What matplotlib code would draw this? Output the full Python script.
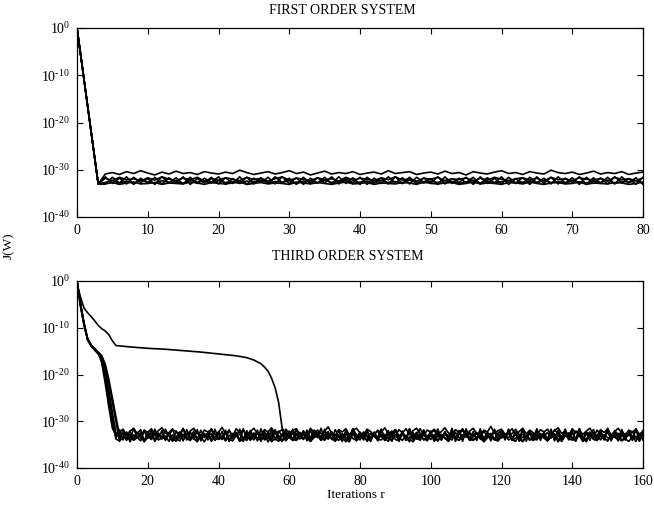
import matplotlib
matplotlib.use("Agg")
import matplotlib.pyplot as plt
import numpy as np

plt.rcParams['font.family'] = ['Liberation Serif', 'DejaVu Serif']
plt.rcParams['mathtext.fontset'] = 'custom'
plt.rcParams['mathtext.rm'] = 'Liberation Serif'
plt.rcParams['mathtext.it'] = 'Liberation Serif:italic'

# ---------------- data (log10 of J(W)) ----------------
top_title = "FIRST ORDER SYSTEM"
bot_title = "THIRD ORDER SYSTEM"
y_label = "J(W)"
x_label = "Iterations r"
y_ticks_exp = [0, -10, -20, -30, -40]
top_xticks = [0, 10, 20, 30, 40, 50, 60, 70, 80]
bot_xticks = [0, 20, 40, 60, 80, 100, 120, 140, 160]

# first order system: common initial descent (iterations 0..3)
top_descent = [0.0, -11.0, -22.0, -33.0]
# floor values for iterations 4..80
top_upper = [-30.9,-30.6,-31.0,-30.4,-30.8,-30.2,-30.7,-31.1,-30.5,-30.9,
             -30.3,-30.8,-30.6,-31.0,-30.4,-30.7,-30.9,-30.5,-30.8,-30.1,
             -30.6,-31.0,-30.7,-30.4,-30.9,-30.6,-30.2,-30.8,-30.5,-31.1,
             -30.7,-30.3,-30.9,-30.6,-30.8,-30.4,-31.0,-30.7,-30.5,-30.9,
             -30.2,-30.8,-30.6,-30.4,-31.0,-30.7,-30.5,-30.9,-30.3,-30.8,
             -30.6,-31.1,-30.4,-30.7,-30.9,-30.5,-30.2,-30.8,-30.6,-31.0,
             -30.4,-30.7,-30.9,-30.1,-30.6,-30.8,-30.5,-31.0,-30.7,-30.3,
             -30.9,-30.6,-30.8,-30.4,-31.0,-30.7,-30.5]
top_band1 = [-31.8,-32.3,-31.6,-32.1,-31.9,-32.4,-31.7,-32.2,-31.5,-32.0,
             -32.3,-31.8,-32.1,-31.6,-32.4,-31.9,-32.2,-31.7,-32.0,-32.3,
             -31.6,-32.1,-31.8,-32.4,-31.9,-31.5,-32.2,-31.8,-32.0,-32.3,
             -31.7,-32.1,-31.9,-32.4,-31.6,-32.2,-31.8,-32.0,-32.3,-31.7,
             -32.1,-31.5,-32.2,-31.9,-32.4,-31.8,-32.0,-31.6,-32.3,-31.9,
             -32.1,-31.7,-32.4,-31.8,-32.2,-31.6,-32.0,-32.3,-31.9,-31.7,
             -32.2,-31.8,-32.4,-31.6,-32.1,-31.9,-32.3,-31.7,-32.0,-32.2,
             -31.8,-32.4,-31.6,-32.1,-31.9,-32.3,-31.7]
top_band2 = [-32.7,-32.3,-32.8,-32.4,-32.9,-32.2,-32.6,-32.8,-32.3,-32.7,
             -32.5,-32.9,-32.2,-32.6,-32.4,-32.8,-32.3,-32.7,-32.5,-32.9,
             -32.4,-32.6,-32.2,-32.8,-32.5,-32.7,-32.3,-32.9,-32.4,-32.6,
             -32.8,-32.2,-32.7,-32.5,-32.3,-32.9,-32.6,-32.4,-32.8,-32.3,
             -32.7,-32.5,-32.9,-32.2,-32.6,-32.8,-32.4,-32.7,-32.3,-32.5,
             -32.9,-32.6,-32.2,-32.8,-32.4,-32.7,-32.5,-32.3,-32.9,-32.6,
             -32.4,-32.8,-32.2,-32.7,-32.5,-32.9,-32.3,-32.6,-32.8,-32.4,
             -32.7,-32.2,-32.9,-32.5,-32.6,-32.3,-32.8]
top_band3 = [-33.0,-32.7,-33.1,-32.8,-32.6,-33.0,-32.9,-32.7,-33.1,-32.8,
             -32.9,-33.0,-32.6,-32.8,-33.1,-32.7,-32.9,-33.0,-32.8,-32.6,
             -33.1,-32.9,-32.7,-33.0,-32.8,-32.9,-33.1,-32.6,-32.8,-33.0,
             -32.7,-32.9,-33.1,-32.8,-32.6,-33.0,-32.9,-32.7,-33.1,-32.8,
             -32.9,-33.0,-32.7,-32.8,-33.1,-32.6,-32.9,-33.0,-32.8,-32.7,
             -33.1,-32.9,-32.6,-33.0,-32.8,-32.9,-33.1,-32.7,-32.8,-33.0,
             -32.6,-32.9,-33.1,-32.8,-32.7,-33.0,-32.9,-32.6,-33.1,-32.8,
             -32.9,-33.0,-32.7,-32.8,-33.1,-32.9,-32.6]
top_band4 = [-31.5,-32.9,-31.8,-33.0,-31.6,-32.7,-31.9,-33.1,-31.5,-32.8,
             -31.7,-33.0,-31.6,-32.9,-31.8,-32.6,-31.5,-33.1,-31.9,-32.8,
             -31.6,-33.0,-31.7,-32.9,-31.5,-32.7,-31.8,-33.1,-31.6,-32.9,
             -31.7,-32.8,-31.5,-33.0,-31.9,-32.7,-31.6,-33.1,-31.8,-32.9,
             -31.5,-32.8,-31.7,-33.0,-31.6,-32.6,-31.9,-33.1,-31.5,-32.9,
             -31.8,-32.7,-31.6,-33.0,-31.7,-32.8,-31.5,-33.1,-31.9,-32.9,
             -31.6,-32.7,-31.8,-33.0,-31.5,-32.8,-31.7,-33.1,-31.6,-32.9,
             -31.8,-33.0,-31.5,-32.7,-31.9,-33.1,-31.6]
top_band5 = [-33.0,-31.6,-32.8,-31.5,-33.1,-31.8,-32.9,-31.6,-33.0,-31.7,
             -32.7,-31.5,-33.1,-31.9,-32.8,-31.6,-33.0,-31.7,-32.9,-31.5,
             -33.1,-31.8,-32.7,-31.6,-33.0,-31.5,-32.9,-31.7,-33.1,-31.8,
             -32.8,-31.6,-33.0,-31.5,-32.9,-31.7,-33.1,-31.6,-32.7,-31.8,
             -33.0,-31.5,-32.9,-31.6,-33.1,-31.7,-32.8,-31.5,-33.0,-31.9,
             -32.7,-31.6,-33.1,-31.5,-32.9,-31.8,-33.0,-31.6,-32.8,-31.7,
             -33.1,-31.5,-32.9,-31.6,-33.0,-31.8,-32.7,-31.5,-33.1,-31.7,
             -32.9,-31.6,-33.0,-31.5,-32.8,-31.7,-33.1]

# third order system: fast runs, descent for iterations 0..11
fast1_descent = [0.0, -5.5, -9.5, -12.5, -13.8, -14.5, -15.2, -16.0, -19.0, -23.5, -28.0, -32.5]
fast2_descent = [0.0, -5.0, -9.0, -12.3, -13.7, -14.4, -15.3, -16.5, -20.5, -25.0, -29.5, -33.5]
fast3_descent = [0.0, -4.8, -9.2, -12.6, -13.9, -14.7, -15.5, -16.2, -18.5, -22.0, -26.0, -30.0]
fast4_descent = [0.0, -5.2, -9.3, -12.4, -13.8, -14.6, -15.4, -17.5, -22.0, -27.0, -31.5, -33.0]
fast5_descent = [0.0, -5.3, -9.4, -12.5, -13.9, -14.8, -15.6, -17.0, -21.0, -25.5, -30.0, -33.8]
fast6_descent = [0.0, -4.9, -9.1, -12.4, -13.7, -14.5, -15.3, -16.0, -17.8, -21.0, -25.0, -29.0]
# floor values for iterations 12..160
fast1_floor = [-33.5,-32.6,-34.1,-33.0,-33.8,-32.4,-33.6,-34.2,-32.9,-33.4,
               -34.0,-32.7,-33.3,-33.9,-32.5,-33.7,-34.3,-33.1,-32.8,-33.6,
               -34.1,-32.9,-33.4,-33.8,-32.6,-34.0,-33.2,-32.7,-33.9,-33.5,
               -32.4,-33.8,-34.2,-33.0,-32.8,-33.6,-34.1,-32.6,-33.3,-33.9,
               -32.7,-34.0,-33.4,-32.5,-33.7,-34.3,-33.0,-32.9,-33.5,-34.1,
               -32.6,-33.3,-33.9,-32.8,-34.2,-33.1,-32.4,-33.7,-34.0,-33.2,
               -32.9,-33.6,-34.1,-32.7,-33.4,-33.8,-32.5,-34.2,-33.0,-33.5,
               -34.0,-32.6,-33.3,-33.9,-32.8,-33.6,-34.3,-32.7,-33.2,-33.8,
               -32.5,-34.1,-33.4,-32.9,-33.7,-34.0,-32.6,-33.3,-33.9,-32.8,
               -34.2,-33.1,-32.7,-33.6,-34.0,-32.4,-33.5,-33.9,-32.8,-34.1,
               -33.3,-32.6,-33.8,-34.2,-32.9,-33.4,-34.0,-32.7,-33.6,-33.1,
               -32.5,-33.9,-34.3,-32.8,-33.5,-33.0,-34.1,-32.6,-33.7,-33.3,
               -32.9,-34.0,-33.4,-32.7,-33.8,-34.2,-33.1,-32.5,-33.6,-33.9,
               -32.8,-33.3,-34.1,-32.6,-33.7,-33.0,-34.0,-32.9,-33.5,-33.8,
               -32.4,-33.6,-34.2,-33.1,-32.7,-33.9,-33.4,-32.8,-34.0]
fast2_floor = [-32.3,-31.7,-32.9,-32.1,-31.5,-32.6,-33.2,-31.9,-32.4,-31.6,
               -32.8,-32.0,-31.4,-32.5,-33.0,-31.8,-32.2,-32.7,-31.6,-32.9,
               -32.1,-31.5,-32.6,-33.1,-31.9,-32.3,-31.7,-32.8,-32.4,-31.3,
               -32.7,-32.0,-33.2,-31.6,-32.5,-31.9,-32.9,-32.2,-31.5,-32.6,
               -33.0,-31.8,-32.3,-31.4,-32.7,-32.1,-33.1,-31.7,-32.5,-32.0,
               -31.6,-32.8,-32.2,-33.0,-31.5,-32.4,-31.9,-32.7,-32.1,-31.2,
               -32.6,-33.1,-31.8,-32.3,-31.6,-32.9,-32.0,-31.5,-32.5,-32.8,
               -31.7,-32.2,-33.0,-31.9,-32.4,-31.4,-32.7,-32.1,-33.2,-31.8,
               -32.5,-31.6,-32.9,-32.0,-31.5,-32.6,-33.1,-31.9,-32.3,-31.7,
               -32.8,-32.2,-31.4,-32.5,-33.0,-31.8,-32.4,-31.6,-32.9,-32.1,
               -31.5,-32.7,-33.2,-31.9,-32.3,-31.1,-32.6,-32.0,-31.7,-32.8,
               -32.4,-31.6,-33.0,-32.2,-31.5,-32.7,-31.9,-32.5,-33.1,-31.8,
               -32.3,-31.7,-32.9,-32.0,-31.4,-32.6,-32.2,-33.0,-31.6,-32.5,
               -31.9,-32.8,-32.1,-31.5,-32.7,-33.1,-31.8,-32.4,-31.6,-32.9,
               -32.2,-31.5,-32.6,-33.0,-31.9,-32.3,-31.7,-32.8,-32.1]
fast3_floor = [-34.3,-33.2,-33.9,-32.8,-34.1,-33.5,-32.9,-34.4,-33.3,-33.8,
               -32.7,-34.0,-33.6,-33.1,-34.3,-32.9,-33.7,-34.2,-33.0,-33.5,
               -34.1,-32.8,-33.9,-33.4,-34.4,-33.1,-32.7,-34.0,-33.6,-33.2,
               -34.2,-33.0,-33.8,-32.9,-34.3,-33.5,-33.1,-34.1,-32.8,-33.7,
               -34.0,-33.3,-32.9,-34.4,-33.6,-33.0,-34.2,-33.4,-32.8,-33.9,
               -34.1,-33.2,-33.7,-32.9,-34.3,-33.5,-33.0,-34.0,-33.6,-32.7,
               -33.8,-34.2,-33.1,-33.5,-34.4,-32.9,-33.7,-34.1,-33.3,-33.0,
               -34.3,-33.4,-32.8,-33.9,-34.0,-33.2,-33.6,-34.2,-32.9,-33.5,
               -34.1,-33.0,-33.8,-34.4,-33.3,-32.8,-33.9,-34.0,-33.1,-33.6,
               -34.2,-32.9,-33.5,-34.3,-33.2,-33.7,-34.0,-33.0,-32.8,-33.9,
               -34.1,-33.4,-33.1,-34.4,-33.6,-32.9,-33.8,-34.2,-33.3,-33.0,
               -34.0,-33.5,-32.8,-33.9,-34.3,-33.1,-33.7,-34.1,-33.2,-32.9,
               -33.6,-34.2,-33.4,-33.0,-34.4,-33.3,-32.8,-33.8,-34.0,-33.5,
               -33.1,-34.3,-33.7,-32.9,-33.9,-34.1,-33.2,-33.6,-34.2,-33.0,
               -33.4,-34.0,-32.8,-33.8,-34.3,-33.3,-33.5,-34.1,-32.9]
fast4_floor = [-31.8,-34.0,-32.3,-33.9,-31.6,-33.4,-34.2,-32.0,-33.7,-31.9,
               -34.1,-32.5,-33.8,-31.7,-33.2,-34.3,-32.1,-33.6,-31.5,-34.0,
               -32.4,-33.9,-31.8,-34.2,-32.7,-33.5,-31.6,-34.1,-32.2,-33.8,
               -31.9,-34.3,-32.6,-33.3,-31.7,-34.0,-32.0,-33.9,-32.5,-34.2,
               -31.6,-33.7,-32.3,-34.1,-31.8,-33.6,-34.3,-32.1,-33.4,-31.7,
               -34.0,-32.4,-33.8,-31.9,-34.2,-32.6,-33.5,-31.5,-34.1,-32.2,
               -33.9,-31.8,-33.3,-34.3,-32.0,-33.7,-31.6,-34.0,-32.5,-33.8,
               -31.9,-34.2,-32.3,-33.6,-31.7,-34.1,-32.7,-33.4,-31.8,-34.3,
               -32.1,-33.9,-31.6,-34.0,-32.4,-33.7,-31.9,-34.2,-32.6,-33.5,
               -31.7,-34.1,-32.2,-33.8,-31.5,-34.3,-32.0,-33.6,-31.8,-34.0,
               -32.5,-33.9,-31.6,-34.2,-32.3,-33.4,-31.9,-34.1,-32.1,-33.7,
               -31.7,-34.0,-32.6,-33.8,-31.8,-34.3,-32.2,-33.5,-31.6,-34.1,
               -32.4,-33.9,-31.9,-34.2,-32.0,-33.6,-31.7,-34.0,-32.5,-33.8,
               -31.6,-34.3,-32.3,-33.7,-31.8,-34.1,-32.1,-33.9,-31.5,-34.2,
               -32.6,-33.4,-31.9,-34.0,-32.2,-33.8,-31.7,-34.3,-32.0]
fast5_floor = [-34.2,-31.9,-33.8,-32.1,-34.0,-32.6,-31.8,-34.3,-32.2,-33.9,
               -31.7,-33.6,-32.0,-34.1,-32.4,-31.6,-33.9,-32.3,-34.2,-31.8,
               -33.7,-32.1,-34.0,-31.9,-33.5,-32.5,-34.3,-31.7,-33.8,-32.2,
               -34.1,-31.8,-33.6,-32.4,-34.2,-31.6,-33.9,-32.0,-33.4,-31.9,
               -34.3,-32.2,-33.7,-31.7,-34.0,-32.3,-31.8,-33.9,-32.1,-34.1,
               -31.6,-33.8,-32.0,-34.2,-31.9,-33.5,-32.4,-34.0,-31.7,-33.6,
               -32.2,-34.3,-31.8,-33.9,-32.1,-34.1,-31.6,-33.7,-32.3,-34.0,
               -31.9,-33.8,-32.5,-34.2,-31.7,-33.6,-32.0,-34.3,-31.8,-33.9,
               -32.2,-34.0,-31.6,-33.7,-32.4,-34.1,-31.9,-33.5,-32.1,-34.2,
               -31.7,-33.9,-32.3,-34.0,-31.8,-33.6,-32.0,-34.3,-31.6,-33.8,
               -32.2,-34.1,-31.9,-33.7,-32.5,-34.2,-31.7,-33.9,-32.0,-34.0,
               -31.8,-33.6,-32.3,-34.3,-31.6,-33.8,-32.1,-34.1,-31.9,-33.7,
               -32.4,-34.0,-31.7,-33.9,-32.2,-34.2,-31.8,-33.5,-32.0,-34.3,
               -31.6,-33.8,-32.3,-34.1,-31.9,-33.7,-32.1,-34.0,-31.7,-33.9,
               -32.5,-34.2,-31.8,-33.6,-32.0,-34.1,-31.6,-33.8,-32.2]
fast6_floor = [-33.0,-33.9,-32.6,-34.4,-32.9,-33.5,-32.4,-34.1,-33.2,-32.7,
               -34.3,-33.1,-32.5,-33.8,-32.8,-34.2,-33.4,-32.6,-34.0,-33.0,
               -32.3,-33.7,-34.4,-32.9,-33.3,-32.5,-34.1,-33.6,-32.7,-33.9,
               -32.4,-34.2,-33.0,-32.8,-33.8,-34.3,-32.6,-33.2,-34.0,-32.5,
               -33.7,-32.9,-34.4,-33.1,-32.4,-33.9,-32.7,-34.2,-33.3,-32.6,
               -34.0,-33.4,-32.8,-33.6,-34.3,-32.5,-33.0,-34.1,-32.9,-33.8,
               -32.4,-34.2,-33.2,-32.7,-33.9,-34.4,-32.6,-33.5,-34.0,-32.8,
               -33.3,-34.3,-32.5,-33.7,-32.9,-34.1,-33.0,-32.6,-33.9,-34.2,
               -32.7,-33.4,-34.4,-32.4,-33.8,-32.9,-34.0,-33.2,-32.6,-34.3,
               -33.1,-32.8,-33.7,-34.2,-32.5,-33.6,-34.1,-32.9,-33.3,-32.4,
               -34.0,-33.5,-32.7,-34.3,-33.0,-32.6,-33.9,-34.2,-32.8,-33.4,
               -32.5,-34.1,-33.6,-32.9,-34.4,-33.2,-32.7,-33.8,-34.0,-32.6,
               -33.3,-34.2,-32.4,-33.7,-32.9,-34.3,-33.1,-32.6,-33.9,-34.1,
               -32.8,-33.5,-34.4,-32.5,-33.0,-34.0,-32.7,-33.6,-34.2,-32.9,
               -33.4,-32.6,-34.1,-33.8,-32.4,-33.2,-34.3,-32.7,-33.9]

# third order system: slow run (iteration, value) up to iteration 58
slow_iter = [0, 1, 2, 3, 4, 5, 6, 7, 8, 9, 10, 11, 15, 20, 25, 30, 35, 40, 45, 48,
             50, 52, 53, 54, 55, 56, 57, 58]
slow_descent = [-0.5, -3.5, -5.8, -6.8, -7.6, -8.5, -9.5, -10.2, -10.7, -11.5, -12.8, -13.8,
                -14.1, -14.4, -14.6, -14.9, -15.2, -15.6, -16.0, -16.4,
                -16.9, -17.7, -18.4, -19.3, -20.8, -22.8, -26.0, -31.5]
# floor values for iterations 59..160
slow_floor = [-32.6,-33.4,-32.1,-33.0,-33.7,-32.4,-32.9,-33.5,-31.9,-32.7,
              -33.3,-32.2,-33.8,-32.5,-33.1,-32.0,-33.6,-32.8,-33.2,-31.7,
              -32.9,-33.5,-32.3,-33.0,-33.9,-32.6,-32.1,-33.4,-32.8,-33.7,
              -32.4,-31.8,-33.1,-32.7,-33.6,-32.2,-33.3,-32.9,-31.6,-33.0,
              -33.5,-32.5,-32.0,-33.2,-33.8,-32.6,-33.1,-32.3,-33.7,-32.8,
              -31.9,-33.4,-32.7,-33.0,-32.4,-33.6,-32.1,-33.3,-32.9,-33.8,
              -32.5,-32.0,-33.2,-33.5,-32.6,-31.7,-33.0,-32.8,-33.4,-32.3,
              -33.7,-32.2,-32.9,-33.1,-32.4,-33.6,-31.8,-32.7,-33.3,-32.5,
              -33.0,-33.8,-32.1,-32.6,-33.4,-32.9,-32.3,-33.5,-31.9,-32.8,
              -33.2,-32.4,-33.7,-32.0,-32.9,-33.3,-32.6,-33.1,-32.2,-33.6,
              -32.7,-33.0]

# ---------------- figure ----------------
fig = plt.figure(figsize=(6.54, 5.14), dpi=100)
ax1 = fig.add_axes([77/654, 1-217/514, 566/654, 189/514])
ax2 = fig.add_axes([77/654, 1-468/514, 566/654, 187/514])

lw = 1.2
top_x = np.concatenate([np.arange(0, 4), np.arange(4, 81)])
for fl in (top_band1, top_band2, top_band3, top_band4, top_band5, top_upper):
    ax1.plot(top_x, 10.0 ** np.array(top_descent + fl), color='black', lw=lw)

fast_x = np.concatenate([np.arange(0, 12), np.arange(12, 161)])
for d, fl in ((fast1_descent, fast1_floor), (fast2_descent, fast2_floor),
              (fast3_descent, fast3_floor), (fast4_descent, fast4_floor),
              (fast5_descent, fast5_floor), (fast6_descent, fast6_floor)):
    ax2.plot(fast_x, 10.0 ** np.array(d + fl), color='black', lw=lw)
slow_x = np.concatenate([slow_iter, np.arange(59, 161)])
ax2.plot(slow_x, 10.0 ** np.array(slow_descent + slow_floor), color='black', lw=lw)

ytick_vals = [10.0 ** e for e in y_ticks_exp]
ytick_labels = [r'$10^{\text{%d}}$' % e for e in y_ticks_exp]
for ax, xt, xmax in ((ax1, top_xticks, 80), (ax2, bot_xticks, 160)):
    ax.set_yscale('log')
    ax.set_ylim(1e-40, 1e0)
    ax.set_xlim(0, xmax)
    ax.set_xticks(xt)
    ax.set_xticklabels([str(v) for v in xt])
    ax.set_yticks(ytick_vals)
    ax.set_yticklabels(ytick_labels)
    ax.yaxis.set_minor_locator(matplotlib.ticker.NullLocator())
    ax.tick_params(direction='in', length=4, width=0.8, top=True, right=True,
                   labelsize=10, pad=5)
    for s in ax.spines.values():
        s.set_linewidth(0.9)

fig.text(342/654, 1-10/514, top_title, ha='center', va='center', fontsize=10)
fig.text(348/654, 1-257/514, bot_title, ha='center', va='center', fontsize=10)
fig.text(9/654, 1-246/514, y_label, ha='center', va='center', rotation=90, fontsize=9.5)
fig.text(356/654, 1-495/514, x_label, ha='center', va='center', fontsize=9.5)

fig.savefig('out.png', dpi=100)
